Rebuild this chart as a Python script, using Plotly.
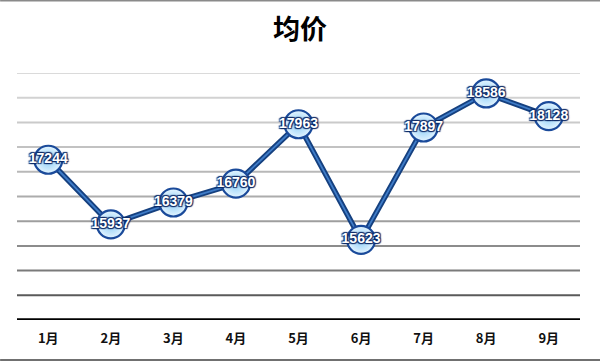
import plotly.graph_objects as go

months = ["1月", "2月", "3月", "4月", "5月", "6月", "7月", "8月", "9月"]
prices = [17244, 15937, 16379, 16760, 17963, 15623, 17897, 18586, 18128]
grid_values = [14500, 15000, 15500, 16000, 16500, 17000, 17500, 18000, 18500, 19000]
grid_colors = ["#5a5a5a", "#7a7a7a", "#8c8c8c", "#9e9e9e", "#acacac", "#b8b8b8",
               "#c2c2c2", "#cacaca", "#d2d2d2", "#dadada"]
title_text = "均价"

fig = go.Figure()

fig.add_trace(go.Scatter(x=months, y=prices, mode="lines",
                         line=dict(color="#15407f", width=5.5), hoverinfo="skip"))
fig.add_trace(go.Scatter(x=months, y=prices, mode="lines",
                         line=dict(color="#3f7cc8", width=1.8), hoverinfo="skip"))
fig.add_trace(go.Scatter(
    x=months, y=prices, mode="markers+text",
    marker=dict(size=28, color="#e4f5ff", line=dict(color="#1a4a9a", width=2.2),
                gradient=dict(type="radial", color="#8ccdf7")),
    text=[str(v) for v in prices], textposition="middle center",
    textfont=dict(family="Liberation Sans, Arial", size=14, color="#ffffff",
                  weight="bold", shadow="1px 1px 1px #0d2a66, -1px -1px 1px #0d2a66, 1px -1px 1px #0d2a66, -1px 1px 1px #0d2a66"),
))

shapes = []
for v, c in zip(grid_values, grid_colors):
    shapes.append(dict(type="line", xref="paper", yref="y", x0=0, x1=1, y0=v, y1=v,
                       line=dict(color=c, width=2), layer="below"))
shapes.append(dict(type="line", xref="paper", yref="paper", x0=-0.03, x1=1.04, y0=1.294, y1=1.294,
                   line=dict(color="#8a8a8a", width=2)))
shapes.append(dict(type="line", xref="paper", yref="paper", x0=-0.03, x1=1.04, y0=-0.162, y1=-0.162,
                   line=dict(color="#707070", width=2)))

fig.update_layout(
    width=600, height=362,
    margin=dict(l=17, r=20, t=73, b=42),
    paper_bgcolor="#ffffff", plot_bgcolor="#ffffff",
    showlegend=False,
    title=dict(text=title_text, x=0.5, xanchor="center", y=0.917, yanchor="middle",
               font=dict(family="Noto Sans CJK SC", size=27, color="#000000", weight="bold")),
    xaxis=dict(showgrid=False, zeroline=False, showline=False, ticks="",
               range=[-0.5, 8.5], automargin=False,
               tickfont=dict(family="Noto Sans CJK SC", size=13, color="#111111", weight="bold"),
               ticklabelstandoff=9),
    yaxis=dict(range=[14000, 19000], showgrid=False, zeroline=False, showticklabels=False,
               showline=False, automargin=False),
    shapes=shapes,
)
fig.add_shape(type="line", xref="paper", yref="y", x0=0, x1=1, y0=14000, y1=14000,
              line=dict(color="#000000", width=3.5))

fig.write_html("out.html", config={"displayModeBar": False},
               post_script="document.body.style.margin='0px';document.body.style.overflow='hidden';")
